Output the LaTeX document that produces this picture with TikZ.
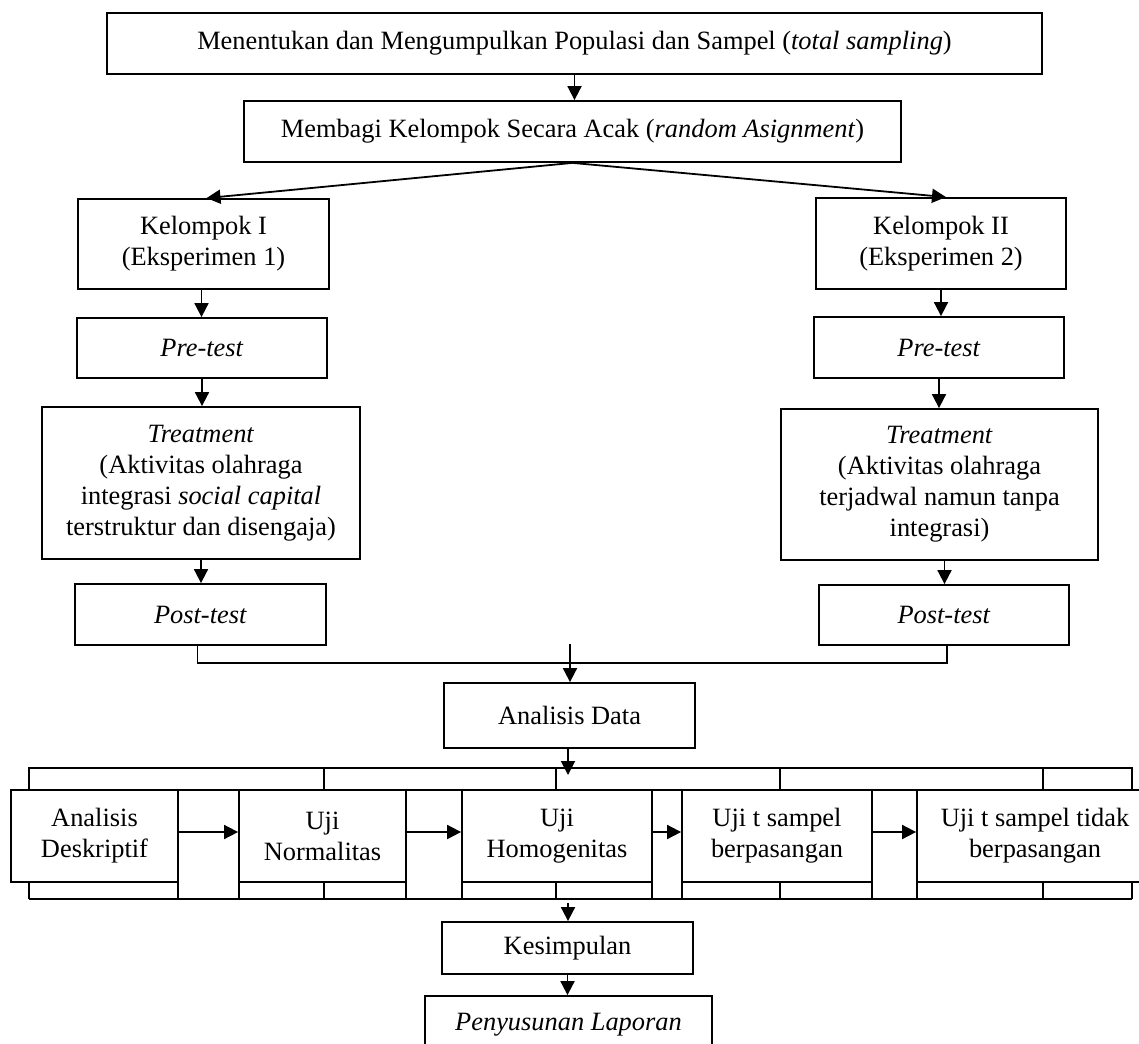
\documentclass[tikz,border=0pt]{standalone}
\usepackage{fontspec}
\setmainfont{Liberation Serif}
\usetikzlibrary{arrows.meta}
\newcommand\bxnode[7][]{%
  \pgfmathsetmacro\bxw{(#5-#3)*0.5}%
  \pgfmathsetmacro\bxh{(#6-#4)*0.5}%
  \node[box,#1,minimum width=\bxw pt,minimum height=\bxh pt] (#2) at ({(#3+#5)/2},{(#4+#6)/2}) {#7};%
}
\begin{document}
\begin{tikzpicture}[x=0.5pt,y=-0.5pt,
  box/.style={draw,line width=0.9pt,fill=white,inner sep=0pt,align=center,
    font=\fontsize{13.2pt}{15.5pt}\selectfont},
  arr/.style={line width=0.9pt,-{Triangle[length=7pt,width=7pt]}},
  tbl/.style={line width=0.9pt}]
\useasboundingbox (0,0) rectangle (1139,1043);
\fill[white] (0,0) rectangle (1139,1043);
\clip (0,0) rectangle (1139,1043);

% boxes of the upper part
\bxnode{top}{107}{13}{1042}{74}{Menentukan dan Mengumpulkan Populasi dan Sampel (\textit{total sampling})}
\bxnode{memb}{244}{101}{901}{162}{Membagi Kelompok Secara Acak (\textit{random Asignment})}
\bxnode{k1}{78}{199}{329}{289}{Kelompok I\\(Eksperimen 1)}
\bxnode{k2}{816}{198}{1066}{289}{Kelompok II\\(Eksperimen 2)}
\bxnode{pre1}{77}{318}{327}{378}{\textit{Pre-test}}
\bxnode{pre2}{814}{317}{1064}{378}{\textit{Pre-test}}
\bxnode{tr1}{42}{407}{360}{559}{\textit{Treatment}\\(Aktivitas olahraga\\integrasi \textit{social capital}\\terstruktur dan disengaja)}
\bxnode{tr2}{781}{409}{1098}{560}{\textit{Treatment}\\(Aktivitas olahraga\\terjadwal namun tanpa\\integrasi)}
\bxnode{post1}{75}{584}{326}{645}{\textit{Post-test}}
\bxnode{post2}{819}{585}{1069}{645}{\textit{Post-test}}
\bxnode{ad}{444}{683}{695}{748}{Analisis Data}

% table grid behind the analysis row
\draw[tbl] (29,768) rectangle (1132,790);
\foreach \xx in {324,556,780,1043} \draw[tbl] (\xx,768) -- (\xx,790);
\draw[tbl] (29,899) -- (1132,899);
\foreach \xx in {29,178,239,324,406,462,556,652,682,780,872,917,1043,1132} \draw[tbl] (\xx,882) -- (\xx,899);

% analysis row boxes
\bxnode{b1}{11}{790}{178}{882}{Analisis\\Deskriptif}
\bxnode{b2}{239}{790}{406}{882}{Uji\\Normalitas}
\bxnode{b3}{462}{790}{652}{882}{Uji\\Homogenitas}
\bxnode{b4}{682}{790}{872}{882}{Uji t sampel\\berpasangan}
\bxnode{b5}{917}{790}{1153}{882}{Uji t sampel tidak\\berpasangan}

\bxnode{kes}{442}{922}{693}{974}{Kesimpulan}
\bxnode{pen}{425}{996}{712}{1054}{\textit{Penyusunan Laporan}}

% connectors
\draw[arr] (top.south) -- (top.south |- memb.north);
\draw[arr] (memb.south) -- ([xshift=1.5pt]k1.north);
\draw[arr] (memb.south) -- ([xshift=2.5pt]k2.north);
\draw[arr] ([xshift=-1pt]k1.south) -- ([xshift=-1pt]k1.south |- pre1.north);
\draw[arr] (pre1.south) -- (pre1.south |- tr1.north);
\draw[arr] (tr1.south) -- (tr1.south |- post1.north);
\draw[arr] (k2.south) -- (k2.south |- pre2.north);
\draw[arr] (pre2.south) -- (pre2.south |- tr2.north);
\draw[arr] ([xshift=2.5pt]tr2.south) -- ([xshift=2.5pt]tr2.south |- post2.north);
\draw[tbl] ([xshift=-1.5pt]post1.south) -- ++(0,17) -| ([xshift=1.5pt]post2.south);
\coordinate (adin) at (570,644);
\draw[arr] (adin) -- (adin |- ad.north);
\coordinate (tblin) at (568,775);
\draw[arr] (ad.south -| tblin) -- (tblin);
\draw[arr] (b1.east |- 0,832) -- (b2.west |- 0,832);
\draw[arr] (b2.east |- 0,832) -- (b3.west |- 0,832);
\draw[arr] (b3.east |- 0,832) -- (b4.west |- 0,832);
\draw[arr] (b4.east |- 0,832) -- (b5.west |- 0,832);
\coordinate (tblout) at (568,903);
\draw[arr] (tblout) -- (tblout |- kes.north);
\draw[arr] (kes.south) -- (kes.south |- pen.north);
\end{tikzpicture}
\end{document}
